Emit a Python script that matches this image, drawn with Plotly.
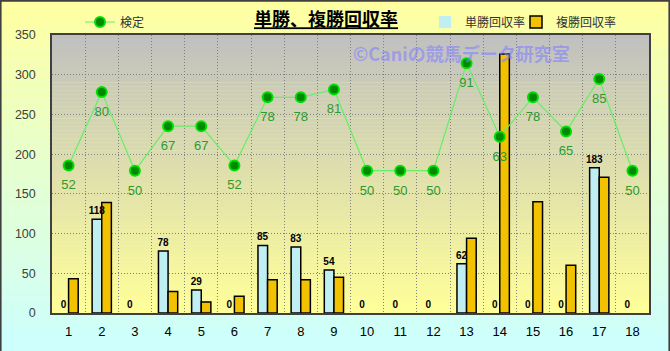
import plotly.graph_objects as go

categories = [str(i) for i in range(1, 19)]
tansho = [0, 118, 0, 78, 29, 0, 85, 83, 54, 0, 0, 0, 62, 0, 0, 0, 183, 0]
fukusho = [43, 139, 0, 27, 14, 21, 42, 42, 45, 0, 0, 0, 94, 326, 140, 60, 171, 0]
kentei = [52, 80, 50, 67, 67, 52, 78, 78, 81, 50, 50, 50, 91, 63, 78, 65, 85, 50]
y_ticks = [0, 50, 100, 150, 200, 250, 300, 350]

W, H = 670, 351
ML, MR, MT, MB = 52, 21, 35, 38
PW, PH = W - ML - MR, H - MT - MB

JP = "Noto Sans CJK JP"
NUM = "Liberation Sans, Arial, Noto Sans CJK JP"


def lerp(c0, c1, t):
    return "rgb(%d,%d,%d)" % tuple(round(a + (b - a) * t) for a, b in zip(c0, c1))


def stripes(x0, x1, y0, y1, ctop, cbot, n):
    out = []
    h = (y1 - y0) / n
    for i in range(n):
        t = (i + 0.5) / n
        yt = y1 - i * h
        yb = yt - h
        out.append(dict(type="rect", xref="paper", yref="paper", x0=x0, x1=x1,
                        y0=yb - h * 0.05, y1=yt, line=dict(width=0),
                        fillcolor=lerp(ctop, cbot, t), layer="below"))
    return out


shapes = []
shapes += stripes(-ML / PW, 1 + MR / PW, -MB / PH, 1 + MT / PH,
                  (255, 255, 160), (204, 255, 255), 70)
shapes += stripes(0, 1, 0, 1, (192, 192, 192), (255, 255, 153), 70)
shapes.append(dict(type="rect", xref="paper", yref="paper",
                   x0=-ML / PW + 0.001, x1=1 + MR / PW - 0.001,
                   y0=-MB / PH - 0.01, y1=1 + MT / PH - 0.003,
                   line=dict(color="#404040", width=2), fillcolor="rgba(0,0,0,0)",
                   layer="above"))

fig = go.Figure()
fig.add_trace(go.Bar(
    x=categories, y=tansho, name="単勝回収率", offsetgroup="tan",
    marker=dict(color="#bfeff2",
                line=dict(color="#000000", width=[1.5 if v else 0 for v in tansho])),
    cliponaxis=False, legend="legend",
))
fig.add_trace(go.Bar(
    x=categories, y=fukusho, name="複勝回収率", offsetgroup="fuku",
    marker=dict(color="#f2c200",
                line=dict(color="#000000", width=[1.5 if v else 0 for v in fukusho])),
    cliponaxis=False, legend="legend3",
))
# value labels of 単勝 drawn after the 複勝 bars so they sit on top
fig.add_trace(go.Bar(
    x=categories, y=tansho, name="単勝回収率", offsetgroup="tan", showlegend=False,
    marker=dict(color="rgba(0,0,0,0)", line=dict(width=0)),
    text=[str(v) for v in tansho], textposition="outside", constraintext="none",
    textfont=dict(family=NUM, size=10, color="#000000", weight="bold"),
    cliponaxis=False, hoverinfo="skip",
))
fig.add_trace(go.Scatter(
    x=categories, y=kentei, name="検定", yaxis="y2",
    mode="lines+markers",
    line=dict(color="#66ee66", width=1.2),
    marker=dict(size=10, color="#008a00", line=dict(color="#00e000", width=2)),
    cliponaxis=False, legend="legend2",
))
# value labels of 検定 (a wider invisible marker keeps them a little further below the points)
fig.add_trace(go.Scatter(
    x=categories, y=kentei, name="検定", yaxis="y2", showlegend=False,
    mode="markers+text",
    marker=dict(size=21, color="rgba(0,0,0,0)"),
    text=[str(v) for v in kentei], textposition="bottom center",
    textfont=dict(family=NUM, size=13, color="#2e9a2e"),
    cliponaxis=False, hoverinfo="skip",
))

leg_common = dict(orientation="h", xanchor="left", y=1 + (MT - 22) / PH, yanchor="middle",
                  bgcolor="rgba(0,0,0,0)", font=dict(family=JP, size=12, color="#333333"))

fig.update_layout(
    width=W, height=H,
    margin=dict(l=ML, r=MR, t=MT, b=MB, autoexpand=False),
    paper_bgcolor="#ccffff",
    plot_bgcolor="rgba(0,0,0,0)",
    barmode="group", bargap=0.42, bargroupgap=0,
    shapes=shapes,
    title=dict(text="<u><b>単勝、複勝回収率</b></u>", x=326 / W, xanchor="center",
               y=1 - 20 / H, yanchor="middle",
               font=dict(family=JP, size=18, color="#000000")),
    legend=dict(x=(425 - ML) / PW, **leg_common),
    legend3=dict(x=(516 - ML) / PW, **leg_common),
    legend2=dict(x=(80 - ML) / PW, **leg_common),
    xaxis=dict(type="category", range=[-0.5, len(categories) - 0.5],
               tickson="boundaries", showgrid=True,
               gridcolor="#808080", griddash="1px,2px", gridwidth=1,
               showline=True, linecolor="#404040", linewidth=1.5, mirror=True,
               ticks="", ticklabelstandoff=6,
               tickfont=dict(family=NUM, size=13, color="#000000")),
    yaxis=dict(range=[0, 350], tickvals=y_ticks, showgrid=True,
               gridcolor="#808080", griddash="1px,2px", gridwidth=1,
               showline=True, linecolor="#404040", linewidth=1.5, mirror=True,
               ticks="", ticklabelstandoff=12, zeroline=False,
               tickfont=dict(family=NUM, size=12.5, color="#404040")),
    yaxis2=dict(range=[-4.3, 101.8], overlaying="y", visible=False, showgrid=False),
    annotations=[dict(text="<b>©Caniの競馬データ研究室</b>", xref="paper", yref="paper",
                      x=(461.5 - ML) / PW, y=(H - MB - 53) / PH,
                      xanchor="center", yanchor="middle", showarrow=False,
                      font=dict(family=JP, size=18, color="rgba(130,130,255,0.6)"))],
)

fig.write_html("out.html")
